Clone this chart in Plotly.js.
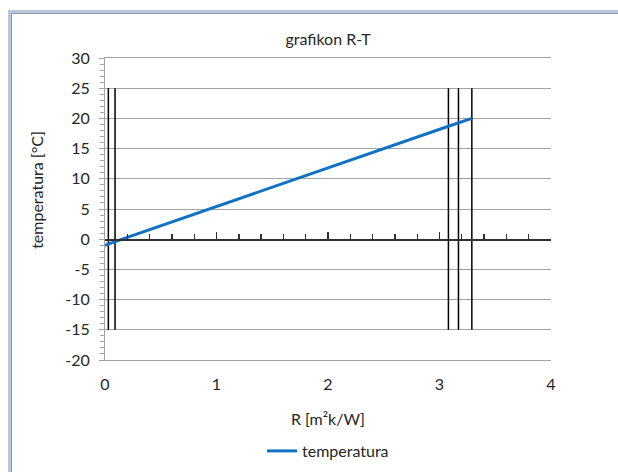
<!DOCTYPE html>
<html>
<head>
<meta charset="utf-8">
<script src="https://cdn.plot.ly/plotly-3.0.1.min.js"></script>
<style>
  html, body { margin: 0; padding: 0; background: #fff; }
  #chart { width: 618px; height: 472px; position: absolute; left: 0; top: 0; }
  #frame { position: absolute; left: 8px; top: 10px; width: 700px; height: 600px;
           border-top: 3px solid #b8c7da; border-left: 3px solid #b8c7da; pointer-events: none; }
  #frame2 { position: absolute; left: 0; top: 0; width: 700px; height: 600px;
            border-top: 1px solid #8d98a6; border-left: 1px solid #8d98a6; }
</style>
</head>
<body>
<div id="chart"></div>
<div id="frame"><div id="frame2"></div></div>
<script>
// Data
const R = [0, 0.03, 0.09, 3.08, 3.17, 3.29];          // thermal resistance [m²k/W]
const T = [-1.0, -0.8, -0.4, 18.7, 19.3, 20.0];       // temperature [°C]
const boundaries = [0.03, 0.09, 3.08, 3.17, 3.29];    // layer boundaries (vertical lines)
const boundaryBottom = -15;
const boundaryTop = 25;
const seriesName = 'temperatura';
const yTicks = [-20, -15, -10, -5, 0, 5, 10, 15, 20, 25, 30];
const xTicks = [0, 1, 2, 3, 4];

const vx = [], vy = [];
boundaries.forEach(b => { vx.push(b, b, null); vy.push(boundaryBottom, boundaryTop, null); });

const font = 'Lato, "Open Sans", sans-serif';
const txt = '#262626';
const grid = '#a3a3a3';

const traces = [
  { x: vx, y: vy, xaxis: 'x', yaxis: 'y', mode: 'lines', showlegend: false,
    line: { color: '#000000', width: 1.5 }, hoverinfo: 'skip' },
  { x: R, y: T, xaxis: 'x2', yaxis: 'y', mode: 'lines', name: seriesName,
    line: { color: '#1072c4', width: 3 } }
];

const layout = {
  width: 618, height: 472,
  margin: { l: 105, r: 67, t: 58, b: 112, autoexpand: false },
  paper_bgcolor: 'rgba(0,0,0,0)', plot_bgcolor: '#ffffff',
  font: { family: font, size: 16, color: txt },
  title: { text: 'grafikon R-T', font: { family: font, size: 16, color: txt },
           x: 0.5, xref: 'paper', xanchor: 'center', y: 1 - 39/472, yanchor: 'middle' },
  showlegend: true,
  legend: { orientation: 'h', x: 0.5, xanchor: 'center', y: (360 - 451) / 302, yanchor: 'middle',
            font: { family: font, size: 16, color: txt } },
  xaxis: { range: [0, 4], tickvals: xTicks, ticktext: xTicks.map(String),
           showgrid: false, zeroline: false, showline: true, mirror: true,
           linecolor: grid, linewidth: 1, ticks: '', ticklabelstandoff: 10,
           tickfont: { family: font, size: 16, color: txt }, fixedrange: true },
  xaxis2: { range: [0, 4], overlaying: 'x', anchor: 'free', position: 0.4,
            side: 'bottom', showgrid: false, zeroline: false, showticklabels: false,
            showline: true, linecolor: '#303030', linewidth: 1.6,
            tickvals: xTicks, ticks: 'inside', ticklen: 7, tickwidth: 1.4, tickcolor: '#303030',
            minor: { dtick: 0.2, ticks: 'inside', ticklen: 5, tickwidth: 1.4, tickcolor: '#303030', showgrid: false },
            fixedrange: true },
  yaxis: { range: [-20, 30], tickvals: yTicks, ticktext: yTicks.map(String),
           showgrid: true, gridcolor: grid, gridwidth: 1, zeroline: false,
           showline: true, linecolor: grid, linewidth: 1,
           ticks: 'outside', ticklen: 5, tickcolor: grid, ticklabelstandoff: 6,
           minor: { dtick: 1, ticks: 'outside', ticklen: 4, tickcolor: grid, showgrid: false },
           tickfont: { family: font, size: 16, color: txt }, fixedrange: true },
  annotations: [
    { text: 'R [m²k/W]', xref: 'paper', yref: 'paper', x: 0.5, y: (360 - 418) / 302,
      xanchor: 'center', yanchor: 'middle', showarrow: false,
      font: { family: font, size: 16, color: txt } },
    { text: 'temperatura [°C]', xref: 'paper', yref: 'paper', x: (36 - 105) / 445, y: (360 - 190) / 302,
      xanchor: 'center', yanchor: 'middle', showarrow: false, textangle: -90,
      font: { family: font, size: 16, color: txt } }
  ]
};

Plotly.newPlot('chart', traces, layout, { displayModeBar: false, staticPlot: true });
</script>
</body>
</html>
